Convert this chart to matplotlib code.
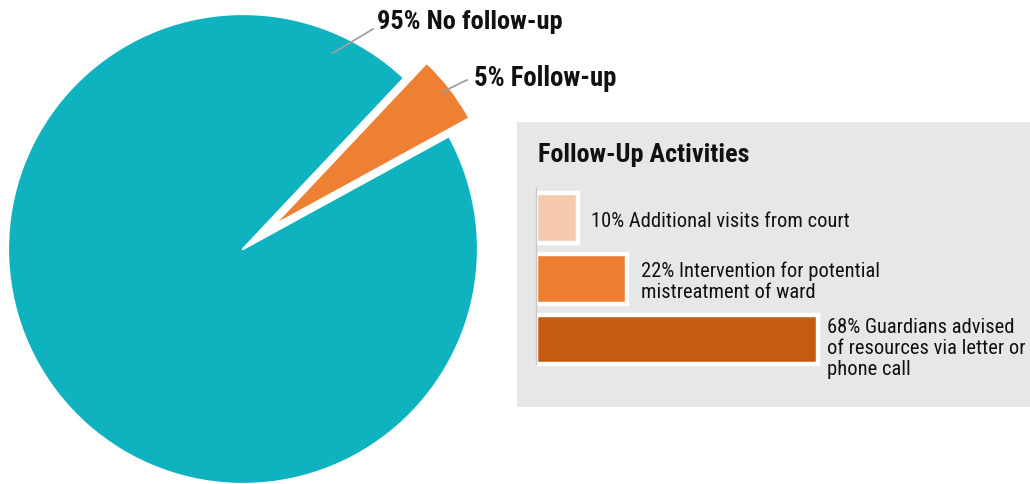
import matplotlib
matplotlib.use('Agg')
import matplotlib.pyplot as plt
from matplotlib.patches import Rectangle

plt.rcParams['font.family'] = ['Roboto Condensed', 'PT Sans Narrow', 'Liberation Sans', 'DejaVu Sans']

# pie data
pie_labels = ['5% Follow-up', '95% No follow-up']
pie_shares = [5, 95]
pie_colors = ['#EE8033', '#0EB3BF']

# follow-up activity breakdown
act_labels = ['10% Additional visits from court',
              '22% Intervention for potential\nmistreatment of ward',
              '68% Guardians advised\nof resources via letter or\nphone call']
act_values = [10, 22, 68]
act_colors = ['#F6C9AC', '#ED7D31', '#C55A11']

W, H = 1030, 485
fig = plt.figure(figsize=(W / 100, H / 100), dpi=100)


def yy(y_img):
    # image row -> data y (axes in pixel units, y up)
    return H - y_img


ax = fig.add_axes([0, 0, 1, 1])
# explode is in data units here (1 unit = 1 px)
wedges, _ = ax.pie(pie_shares, colors=pie_colors, startangle=28.7,
                   explode=[38, 0], radius=235, center=(243, yy(250)),
                   wedgeprops=dict(edgecolor='white', linewidth=1.6,
                                   joinstyle='round'))
wedges[0].set_radius(224)
ax.set_xlim(0, W)
ax.set_ylim(0, H)
ax.set_aspect('equal')
ax.axis('off')

# pie labels with leader lines
lead = '#A0A0A0'
ax.plot([333, 373], [yy(54), yy(30)], color=lead, lw=1.3)
ax.text(377, yy(29), pie_labels[1], ha='left', va='baseline',
        fontsize=19, fontweight='bold', color='#111111')
ax.plot([442, 467], [yy(93), yy(81)], color=lead, lw=1.3)
ax.text(474, yy(86), pie_labels[0], ha='left', va='baseline',
        fontsize=19.3, fontweight='bold', color='#111111')

# grey legend panel
ax.add_patch(Rectangle((517, yy(408)), W - 517, 408 - 123,
                       facecolor='#E6E7E7', edgecolor='none', zorder=0))
ax.text(538, yy(162), 'Follow-Up Activities', ha='left', va='baseline',
        fontsize=18.8, fontweight='bold', color='#111111')

# bar axes inside the panel
bx = fig.add_axes([536 / W, (H - 380) / H, 494 / W, 200 / H])
bx.set_facecolor('none')
pos = list(range(len(act_values)))
bx.barh(pos, act_values, height=0.82, color=act_colors,
        edgecolor='white', linewidth=3.2)
bx.set_xlim(0, 494 / 4.15)
bx.set_ylim(2.65, -0.642)
for s in ['top', 'right', 'bottom']:
    bx.spines[s].set_visible(False)
bx.spines['left'].set_color('#C8C8C8')
bx.spines['left'].set_linewidth(1)
bx.spines['left'].set_bounds(-0.51, 2.4)
bx.set_xticks([])
bx.set_yticks([])

for i, (v, lab) in enumerate(zip(act_values, act_labels)):
    nlines = lab.count('\n') + 1
    if nlines < 3:
        bx.annotate(lab, xy=(v, i), xytext=(10, -1.5), textcoords='offset points',
                    ha='left', va='center', fontsize=14.8, linespacing=1.12,
                    color='#111111')
    else:
        bx.annotate(lab, xy=(v, i - 0.41), xytext=(6, -2),
                    textcoords='offset points', ha='left', va='top',
                    fontsize=14.8, linespacing=1.12, color='#111111')

fig.savefig('out.png', dpi=100)
